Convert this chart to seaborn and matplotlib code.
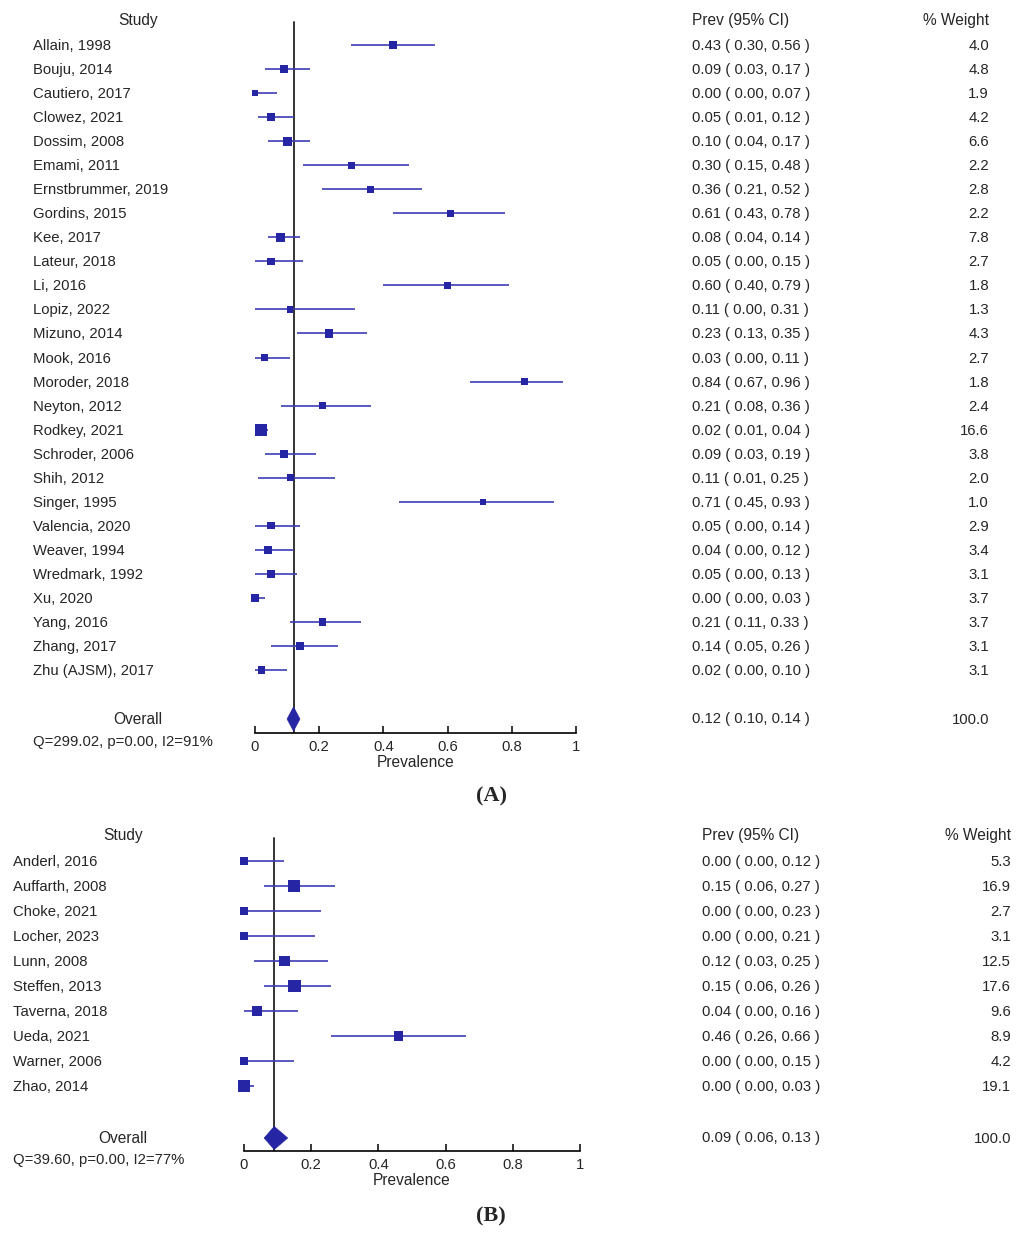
import matplotlib
matplotlib.use("Agg")
import matplotlib.pyplot as plt
from matplotlib.patches import Polygon
from matplotlib.transforms import blended_transform_factory, offset_copy
import numpy as np
import pandas as pd
import seaborn as sns

sns.set_theme(style="white")
plt.rcParams['font.family'] = ['Liberation Sans', 'DejaVu Sans']

# ---------------- Data: panel A ----------------
studies_a = ["Allain, 1998", "Bouju, 2014", "Cautiero, 2017", "Clowez, 2021", "Dossim, 2008",
             "Emami, 2011", "Ernstbrummer, 2019", "Gordins, 2015", "Kee, 2017", "Lateur, 2018",
             "Li, 2016", "Lopiz, 2022", "Mizuno, 2014", "Mook, 2016", "Moroder, 2018",
             "Neyton, 2012", "Rodkey, 2021", "Schroder, 2006", "Shih, 2012", "Singer, 1995",
             "Valencia, 2020", "Weaver, 1994", "Wredmark, 1992", "Xu, 2020", "Yang, 2016",
             "Zhang, 2017", "Zhu (AJSM), 2017"]
prev_a = [0.43, 0.09, 0.00, 0.05, 0.10, 0.30, 0.36, 0.61, 0.08, 0.05, 0.60, 0.11, 0.23, 0.03,
          0.84, 0.21, 0.02, 0.09, 0.11, 0.71, 0.05, 0.04, 0.05, 0.00, 0.21, 0.14, 0.02]
lo_a = [0.30, 0.03, 0.00, 0.01, 0.04, 0.15, 0.21, 0.43, 0.04, 0.00, 0.40, 0.00, 0.13, 0.00,
        0.67, 0.08, 0.01, 0.03, 0.01, 0.45, 0.00, 0.00, 0.00, 0.00, 0.11, 0.05, 0.00]
hi_a = [0.56, 0.17, 0.07, 0.12, 0.17, 0.48, 0.52, 0.78, 0.14, 0.15, 0.79, 0.31, 0.35, 0.11,
        0.96, 0.36, 0.04, 0.19, 0.25, 0.93, 0.14, 0.12, 0.13, 0.03, 0.33, 0.26, 0.10]
weight_a = [4.0, 4.8, 1.9, 4.2, 6.6, 2.2, 2.8, 2.2, 7.8, 2.7, 1.8, 1.3, 4.3, 2.7, 1.8, 2.4,
            16.6, 3.8, 2.0, 1.0, 2.9, 3.4, 3.1, 3.7, 3.7, 3.1, 3.1]
overall_a = (0.12, 0.10, 0.14)
het_a = "Q=299.02, p=0.00, I2=91%"

# ---------------- Data: panel B ----------------
studies_b = ["Anderl, 2016", "Auffarth, 2008", "Choke, 2021", "Locher, 2023", "Lunn, 2008",
             "Steffen, 2013", "Taverna, 2018", "Ueda, 2021", "Warner, 2006", "Zhao, 2014"]
prev_b = [0.00, 0.15, 0.00, 0.00, 0.12, 0.15, 0.04, 0.46, 0.00, 0.00]
lo_b = [0.00, 0.06, 0.00, 0.00, 0.03, 0.06, 0.00, 0.26, 0.00, 0.00]
hi_b = [0.12, 0.27, 0.23, 0.21, 0.25, 0.26, 0.16, 0.66, 0.15, 0.03]
weight_b = [5.3, 16.9, 2.7, 3.1, 12.5, 17.6, 9.6, 8.9, 4.2, 19.1]
overall_b = (0.09, 0.06, 0.13)
het_b = "Q=39.60, p=0.00, I2=77%"

ticks = [0, 0.2, 0.4, 0.6, 0.8, 1]
tick_labels = ["0", "0.2", "0.4", "0.6", "0.8", "1"]

W, H = 1021, 1237
DPI = 100
MARK = "#2626A4"
LINE = "#3D3DB5"
FS = 10.7

fig = plt.figure(figsize=(W / DPI, H / DPI), dpi=DPI)


def fx(px):
    return px / W


def panel(studies, prev, lo, hi, weight, overall, het, cfg):
    n = len(studies)
    rows = np.arange(n)
    df = pd.DataFrame({"study": studies, "prev": prev, "lo": lo, "hi": hi,
                       "weight": weight, "row": rows})
    side_px = 1.95 * np.sqrt(df["weight"]) + 4.05
    df["msize"] = (side_px * 72 / DPI) ** 2

    pitch = cfg["pitch"]
    r_top = (cfg["header_px"] - cfg["row0_px"]) / pitch
    r_bot = (cfg["axis_px"] - cfg["row0_px"]) / pitch
    r_over = (cfg["overall_px"] - cfg["row0_px"]) / pitch

    left = fx(cfg["x0_px"])
    width = fx(cfg["x1_px"] - cfg["x0_px"])
    bottom = 1 - cfg["axis_px"] / H
    height = (cfg["axis_px"] - cfg["header_px"]) / H
    ax = fig.add_axes([left, bottom, width, height])
    ax.set_xlim(0, 1)
    ax.set_ylim(r_bot, r_top)

    # CI lines
    ax.hlines(df["row"], df["lo"], df["hi"], color=LINE, lw=1.2, zorder=2, clip_on=False)
    # squares
    sizes = {v: v for v in df["msize"].unique()}
    sns.scatterplot(data=df, x="prev", y="row", size="msize", sizes=sizes,
                    marker="s", color=MARK, edgecolor="none", legend=False,
                    ax=ax, zorder=3, clip_on=False)
    # vertical overall line
    vtop = (cfg["vtop_px"] - cfg["row0_px"]) / pitch
    ax.plot([overall[0], overall[0]], [vtop, r_bot], color="#333333", lw=1.4, zorder=1)
    # diamond
    hh = cfg["dhalf"]
    diamond = Polygon([[overall[1], r_over], [overall[0], r_over - hh],
                       [overall[2], r_over], [overall[0], r_over + hh]],
                      closed=True, facecolor=MARK, edgecolor=MARK, lw=0.5, zorder=4)
    ax.add_patch(diamond)

    # axis styling
    for s in ["top", "left", "right"]:
        ax.spines[s].set_visible(False)
    ax.spines["bottom"].set_color("black")
    ax.spines["bottom"].set_linewidth(1.2)
    ax.set_xticks(ticks)
    ax.set_xticklabels(tick_labels, fontsize=FS)
    ax.tick_params(axis="x", direction="in", length=5, width=1.1, color="black",
                   pad=5, bottom=True)
    ax.set_yticks([])
    ax.set_xlabel("Prevalence", fontsize=FS + 0.5, labelpad=1)
    ax.set_ylabel("")
    ax.set_facecolor("none")
    ax.grid(False)

    VA = "baseline"
    tr0 = blended_transform_factory(fig.transFigure, ax.transData)
    tr = offset_copy(tr0, fig=fig, x=0, y=-5.0 * 72 / DPI, units="points")
    ax.text(fx(cfg["study_hdr_px"]), r_top, "Study", transform=tr, ha="center",
            va=VA, fontsize=FS + 0.5, clip_on=False)
    ax.text(fx(cfg["prev_px"]), r_top, "Prev (95% CI)", transform=tr, ha="left",
            va=VA, fontsize=FS + 0.5, clip_on=False)
    ax.text(fx(cfg["wt_px"]), r_top, "% Weight", transform=tr, ha="right",
            va=VA, fontsize=FS + 0.5, clip_on=False)
    for _, r in df.iterrows():
        ax.text(fx(cfg["name_px"]), r["row"], r["study"], transform=tr, ha="left",
                va=VA, fontsize=FS, clip_on=False)
        ax.text(fx(cfg["prev_px"]), r["row"],
                f"{r['prev']:.2f} ( {r['lo']:.2f}, {r['hi']:.2f} )",
                transform=tr, ha="left", va=VA, fontsize=FS, clip_on=False)
        ax.text(fx(cfg["wt_px"]), r["row"], f"{r['weight']:.1f}", transform=tr,
                ha="right", va=VA, fontsize=FS, clip_on=False)
    ax.text(fx(cfg["study_hdr_px"]), r_over, "Overall", transform=tr, ha="center",
            va=VA, fontsize=FS + 0.5, clip_on=False)
    ax.text(fx(cfg["prev_px"]), r_over - 0.05,
            f"{overall[0]:.2f} ( {overall[1]:.2f}, {overall[2]:.2f} )",
            transform=tr, ha="left", va=VA, fontsize=FS, clip_on=False)
    ax.text(fx(cfg["wt_px"]), r_over, "100.0", transform=tr, ha="right",
            va=VA, fontsize=FS, clip_on=False)
    r_het = (cfg["het_px"] - cfg["row0_px"]) / pitch
    ax.text(fx(cfg["name_px"]), r_het, het, transform=tr, ha="left",
            va=VA, fontsize=FS, clip_on=False)
    fig.text(fx(491), 1 - cfg["label_px"] / H, cfg["label"], ha="center", va="center",
             fontsize=16, fontweight="bold", family=["Liberation Serif", "DejaVu Serif"])
    return ax


cfg_a = dict(pitch=24.04, row0_px=45, header_px=20, axis_px=733, overall_px=719,
             vtop_px=22, x0_px=255, x1_px=576, dhalf=0.5, study_hdr_px=138,
             prev_px=692, wt_px=989, name_px=33, het_px=741, label_px=796, label="(A)")
cfg_b = dict(pitch=25.0, row0_px=861, header_px=835, axis_px=1151, overall_px=1138,
             vtop_px=838, x0_px=244, x1_px=580, dhalf=0.46, study_hdr_px=123,
             prev_px=702, wt_px=1011, name_px=13, het_px=1159, label_px=1216, label="(B)")

panel(studies_a, prev_a, lo_a, hi_a, weight_a, overall_a, het_a, cfg_a)
panel(studies_b, prev_b, lo_b, hi_b, weight_b, overall_b, het_b, cfg_b)

fig.savefig("out.png", dpi=DPI, facecolor="white")
